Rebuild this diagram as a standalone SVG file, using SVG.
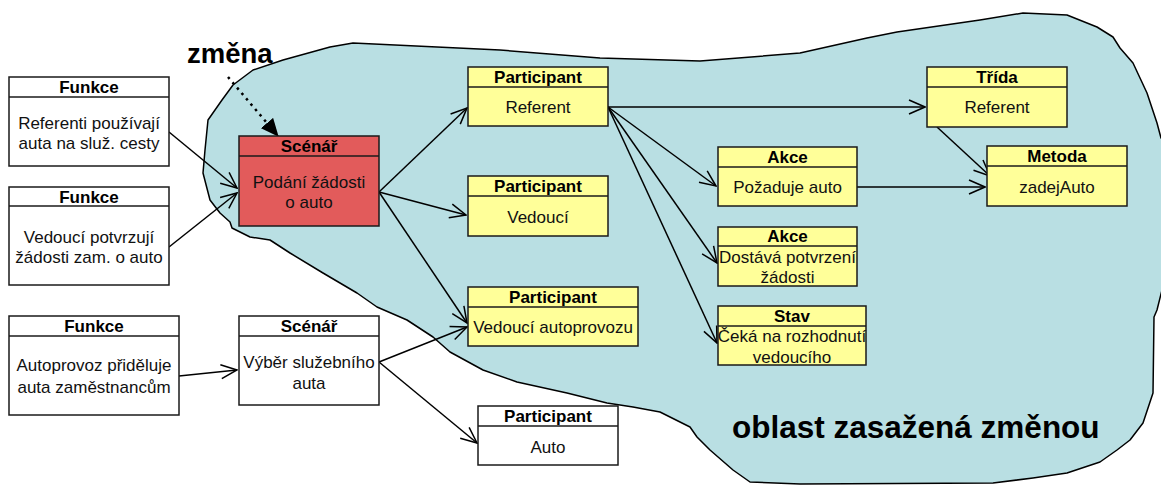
<svg xmlns="http://www.w3.org/2000/svg" width="1161" height="485" viewBox="0 0 1161 485">
  <style>
    .box { stroke: #1a1a1a; stroke-width: 1.5; }
    .white { fill: #ffffff; }
    .yellow { fill: #ffff99; }
    .red { fill: #e25b5b; }
    .sep { stroke: #1a1a1a; stroke-width: 1.5; }
    .hdr { font-family: "Liberation Sans", Arial, sans-serif; font-weight: bold; font-size: 17px; text-anchor: middle; fill: #000; }
    .txt { font-family: "Liberation Sans", Arial, sans-serif; font-size: 17px; text-anchor: middle; fill: #111; }
    .big { font-family: "Liberation Sans", Arial, sans-serif; font-weight: bold; fill: #000; }
    .edge { fill: none; stroke: #000; stroke-width: 1.5; marker-end: url(#open); }
  </style>
  <defs>
    <marker id="open" viewBox="0 0 18 16" refX="17" refY="8" markerWidth="18" markerHeight="16" markerUnits="userSpaceOnUse" orient="auto">
      <path d="M1,1 L17,8 L1,15" fill="none" stroke="#000" stroke-width="1.5"/>
    </marker>
    <marker id="solid" viewBox="0 0 18 16" refX="17" refY="8" markerWidth="18" markerHeight="16" markerUnits="userSpaceOnUse" orient="auto">
      <path d="M0,0 L18,8 L0,16 Z" fill="#000"/>
    </marker>
  </defs>

  <!-- affected region -->
  <path id="region" d="M205,150 L203,173 210,200 220,213 230,222 232,228 250,237 270,240 290,253 323,273 357,293 377,307 407,320 433,337 450,352 483,370 517,382 567,393 607,403 633,407 660,412 690,427 697,437 710,450 733,470 750,482 800,484 993,483 1033,478 1067,473 1100,462 1117,450 1130,440 1143,423 1153,393 1154,317 1157,310 1162,290 1165,280 1165,140 1161,138 1157,123 1147,93 1133,63 1120,48 1113,37 1097,27 1067,15 1023,13 980,20 897,32 867,38 800,53 700,61 600,58 500,50 353,43 330,47 283,60 253,70 233,85 222,100 208,120 Z" fill="#b9dfe3" stroke="#000" stroke-width="1.5" stroke-linejoin="round"/>

  <text class="big" x="187" y="63" font-size="27.5">změna</text>
  <text class="big" x="732" y="438" font-size="31.5">oblast zasažená změnou</text>

  <!-- connectors -->
  <g id="connectors">
    <path class="edge" d="M169,132 L237,188"/>
    <path class="edge" d="M169,247 L237,193"/>
    <path class="edge" d="M379,192 L467,108"/>
    <path class="edge" d="M379,192 L466,215"/>
    <path class="edge" d="M379,192 L467,323"/>
    <path class="edge" d="M379,362 L467,327"/>
    <path class="edge" d="M379,362 L477,443"/>
    <path class="edge" d="M179,376 L237,370"/>
    <path class="edge" d="M608,107 L925,107"/>
    <path class="edge" d="M608,107 L716,186"/>
    <path class="edge" d="M608,107 L717,263"/>
    <path class="edge" d="M608,107 L717,343"/>
    <path class="edge" d="M857,187 L985,187"/>
    <path class="edge" d="M937,127 L990,176"/>
    <path d="M228,77 L278,136" fill="none" stroke="#000" stroke-width="2.5" stroke-dasharray="2.5 4.5" marker-end="url(#solid)"/>
  </g>

  <!-- nodes -->
  <g id="funkce-referenti">
    <rect class="box white" x="9" y="77" width="160" height="89"/>
    <line class="sep" x1="9" y1="97" x2="169" y2="97"/>
    <text class="hdr" x="89" y="93">Funkce</text>
    <text class="txt" x="89" y="129">Referenti používají</text>
    <text class="txt" x="89" y="149">auta na služ. cesty</text>
  </g>
  <g id="funkce-vedouci">
    <rect class="box white" x="9" y="187" width="160" height="98"/>
    <line class="sep" x1="9" y1="206" x2="169" y2="206"/>
    <text class="hdr" x="89" y="203">Funkce</text>
    <text class="txt" x="89" y="243">Vedoucí potvrzují</text>
    <text class="txt" x="89" y="263">žádosti zam. o auto</text>
  </g>
  <g id="funkce-autoprovoz">
    <rect class="box white" x="9" y="316" width="170" height="99"/>
    <line class="sep" x1="9" y1="336" x2="179" y2="336"/>
    <text class="hdr" x="94" y="332">Funkce</text>
    <text class="txt" x="94" y="371">Autoprovoz přiděluje</text>
    <text class="txt" x="94" y="393">auta zaměstnancům</text>
  </g>
  <g id="scenar-podani">
    <rect class="box red" x="239" y="136" width="140" height="90"/>
    <line class="sep" x1="239" y1="156" x2="379" y2="156"/>
    <text class="hdr" x="309" y="152">Scénář</text>
    <text class="txt" x="309" y="188">Podání žádosti</text>
    <text class="txt" x="309" y="208">o auto</text>
  </g>
  <g id="scenar-vyber">
    <rect class="box white" x="239" y="316" width="140" height="89"/>
    <line class="sep" x1="239" y1="336" x2="379" y2="336"/>
    <text class="hdr" x="309" y="332">Scénář</text>
    <text class="txt" x="309" y="368">Výběr služebního</text>
    <text class="txt" x="309" y="389">auta</text>
  </g>
  <g id="participant-referent">
    <rect class="box yellow" x="468" y="67" width="140" height="59"/>
    <line class="sep" x1="468" y1="87" x2="608" y2="87"/>
    <text class="hdr" x="538" y="83">Participant</text>
    <text class="txt" x="538" y="113">Referent</text>
  </g>
  <g id="participant-vedouci">
    <rect class="box yellow" x="468" y="176" width="140" height="60"/>
    <line class="sep" x1="468" y1="196" x2="608" y2="196"/>
    <text class="hdr" x="538" y="192">Participant</text>
    <text class="txt" x="538" y="223">Vedoucí</text>
  </g>
  <g id="participant-vedouci-autoprovozu">
    <rect class="box yellow" x="468" y="287" width="170" height="59"/>
    <line class="sep" x1="468" y1="307" x2="638" y2="307"/>
    <text class="hdr" x="553" y="303">Participant</text>
    <text class="txt" x="553" y="333">Vedoucí autoprovozu</text>
  </g>
  <g id="participant-auto">
    <rect class="box white" x="478" y="406" width="140" height="59"/>
    <line class="sep" x1="478" y1="426" x2="618" y2="426"/>
    <text class="hdr" x="548" y="422">Participant</text>
    <text class="txt" x="548" y="453">Auto</text>
  </g>
  <g id="akce-pozaduje">
    <rect class="box yellow" x="718" y="147" width="139" height="59"/>
    <line class="sep" x1="718" y1="167" x2="857" y2="167"/>
    <text class="hdr" x="787.5" y="163">Akce</text>
    <text class="txt" x="787.5" y="193">Požaduje auto</text>
  </g>
  <g id="akce-dostava">
    <rect class="box yellow" x="718" y="227" width="139" height="59"/>
    <line class="sep" x1="718" y1="246" x2="857" y2="246"/>
    <text class="hdr" x="787.5" y="242">Akce</text>
    <text class="txt" x="787.5" y="263">Dostává potvrzení</text>
    <text class="txt" x="787.5" y="283">žádosti</text>
  </g>
  <g id="stav-ceka">
    <rect class="box yellow" x="718" y="306" width="148" height="59"/>
    <line class="sep" x1="718" y1="326" x2="866" y2="326"/>
    <text class="hdr" x="792" y="322">Stav</text>
    <text class="txt" x="792" y="342">Čeká na rozhodnutí</text>
    <text class="txt" x="792" y="363">vedoucího</text>
  </g>
  <g id="trida-referent">
    <rect class="box yellow" x="927" y="67" width="140" height="60"/>
    <line class="sep" x1="927" y1="87" x2="1067" y2="87"/>
    <text class="hdr" x="997" y="83">Třída</text>
    <text class="txt" x="997" y="113">Referent</text>
  </g>
  <g id="metoda-zadejauto">
    <rect class="box yellow" x="987" y="146" width="140" height="60"/>
    <line class="sep" x1="987" y1="166" x2="1127" y2="166"/>
    <text class="hdr" x="1057" y="162">Metoda</text>
    <text class="txt" x="1057" y="193">zadejAuto</text>
  </g>
</svg>
